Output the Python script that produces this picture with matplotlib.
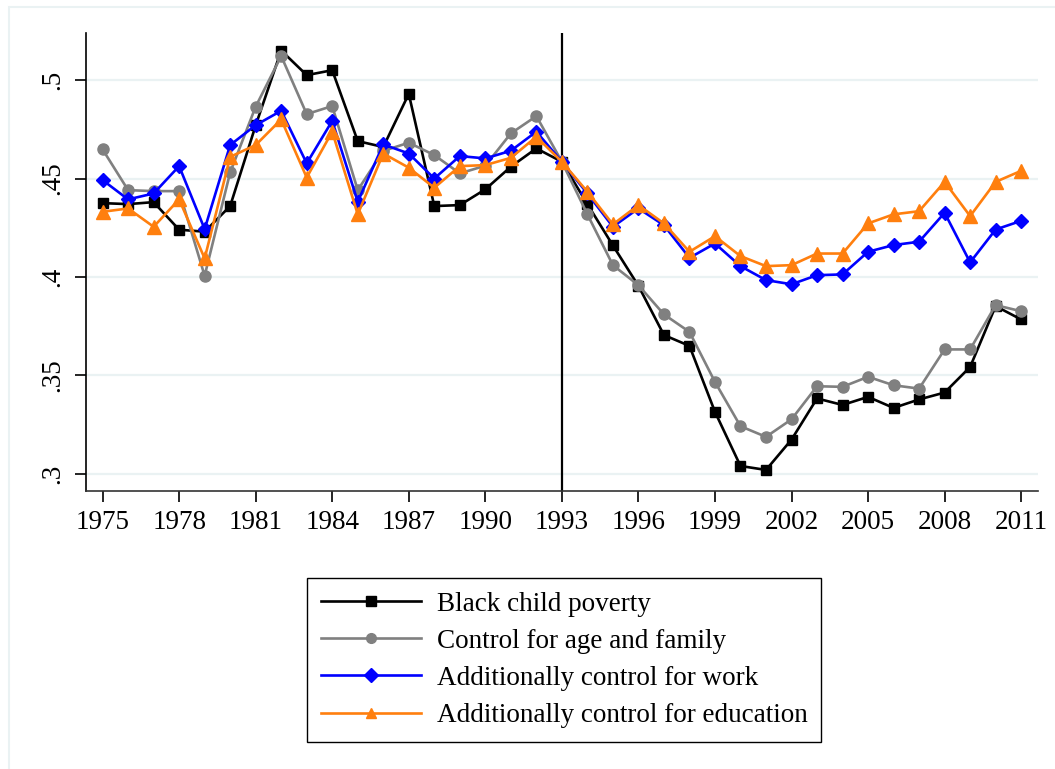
import numpy as np
import matplotlib
matplotlib.use("Agg")
import matplotlib.pyplot as plt
from matplotlib.patches import Rectangle

years = list(range(1975, 2012))

black_poverty = [0.4375, 0.437, 0.438, 0.424, 0.423, 0.436, 0.477, 0.515, 0.5025, 0.505,
                 0.469, 0.466, 0.493, 0.436, 0.4365, 0.4445, 0.456, 0.4653, 0.4585,
                 0.437, 0.416, 0.3955, 0.3705, 0.365, 0.3315, 0.304, 0.302, 0.3174,
                 0.3383, 0.335, 0.3391, 0.3335, 0.3378, 0.3413, 0.3543, 0.3852, 0.3784]

age_family = [0.4648, 0.4441, 0.4436, 0.4436, 0.4006, 0.4531, 0.4865, 0.5122, 0.4827, 0.4868,
              0.4441, 0.464, 0.4682, 0.4619, 0.4526, 0.4565, 0.4729, 0.4817, 0.4585,
              0.4318, 0.406, 0.3958, 0.381, 0.3721, 0.3467, 0.3242, 0.3188, 0.3277,
              0.3445, 0.3442, 0.3493, 0.345, 0.3433, 0.3632, 0.3632, 0.3857, 0.3826]

add_work = [0.4492, 0.4394, 0.4424, 0.4563, 0.4243, 0.467, 0.4771, 0.4844, 0.4577, 0.4793,
            0.4382, 0.4673, 0.4627, 0.45, 0.4614, 0.4602, 0.4641, 0.4738, 0.4585,
            0.4424, 0.4255, 0.4348, 0.4263, 0.4097, 0.417, 0.4055, 0.3984, 0.3963,
            0.4009, 0.4013, 0.4128, 0.4162, 0.4179, 0.4326, 0.4074, 0.4241, 0.4285]

add_education = [0.4331, 0.4348, 0.4255, 0.4394, 0.4094, 0.461, 0.467, 0.48, 0.4505, 0.4738,
                 0.4318, 0.4627, 0.4555, 0.4453, 0.4563, 0.4568, 0.4605, 0.4712, 0.4585,
                 0.4433, 0.4267, 0.4365, 0.4272, 0.4128, 0.4207, 0.4106, 0.4055, 0.406,
                 0.4119, 0.4119, 0.4272, 0.4318, 0.4334, 0.4483, 0.4309, 0.4483, 0.4539]

labels = ["Black child poverty", "Control for age and family",
          "Additionally control for work", "Additionally control for education"]

xticks = list(range(1975, 2012, 3))
yticks = [0.3, 0.35, 0.4, 0.45, 0.5]
ytick_labels = [".3", ".35", ".4", ".45", ".5"]

plt.rcParams.update({
    'font.family': ['Liberation Serif', 'DejaVu Serif'],
    'font.size': 19,
})

fig = plt.figure(figsize=(10.55, 7.69), dpi=100)
fig.patches.append(Rectangle((9 / 1055, -0.1), 1.2, 1.1 - 7 / 769, transform=fig.transFigure,
                             fill=False, edgecolor='#EAF2F3', linewidth=1.5))

ax = fig.add_axes([86 / 1055, 1 - 491 / 769, (1038 - 86) / 1055, (491 - 33) / 769])

for yv in yticks:
    ax.axhline(yv, color='#EAF2F3', linewidth=1.6, zorder=0)

ax.axvline(1993, color='black', linewidth=1.6, zorder=1)

ax.plot(years, black_poverty, color='black', linewidth=1.9, marker='s', markersize=7.5, label=labels[0], zorder=3)
ax.plot(years, age_family, color='#808080', linewidth=1.9, marker='o', markersize=8, label=labels[1], zorder=3)
ax.plot(years, add_work, color='#0000FF', linewidth=1.9, marker='D', markersize=7.5, label=labels[2], zorder=4)
ax.plot(years, add_education, color='#FF7F0E', linewidth=1.9, marker='^', markersize=9.5, label=labels[3], zorder=5)

ax.set_xlim(1974.35, 2011.66)
ax.set_ylim(0.2913, 0.5239)
ax.set_xticks(xticks)
ax.set_yticks(yticks)
ax.set_yticklabels(ytick_labels, rotation=90, va='center')
ax.tick_params(axis='both', length=8, width=1.2, colors='black', labelsize=19.5)
ax.tick_params(axis='x', pad=6)
ax.tick_params(axis='y', pad=7)

ax.spines['top'].set_visible(False)
ax.spines['right'].set_visible(False)
ax.spines['left'].set_linewidth(1.2)
ax.spines['bottom'].set_linewidth(1.2)
ax.spines['bottom'].set_color('#333333')

leg = fig.legend(loc='upper left', bbox_to_anchor=(307 / 1055, 1 - 578 / 769),
                 frameon=True, fancybox=False, edgecolor='black', framealpha=1,
                 handlelength=3.7, handletextpad=0.6, labelspacing=0.45,
                 borderpad=0.5, fontsize=19.5, borderaxespad=0)
leg.get_frame().set_linewidth(1.0)
for h in leg.legend_handles:
    h.set_markersize(7)

fig.savefig("out.png", dpi=100)
